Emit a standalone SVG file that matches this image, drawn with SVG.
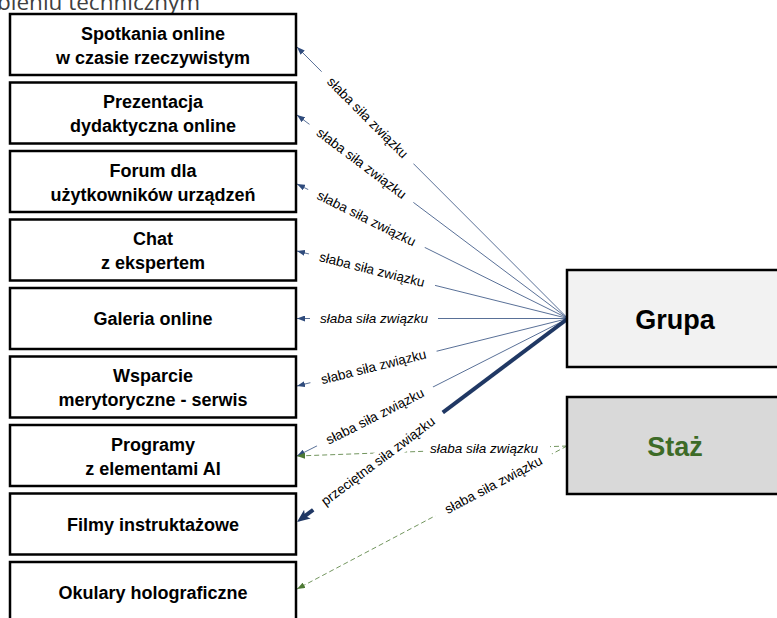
<svg xmlns="http://www.w3.org/2000/svg" width="777" height="618" viewBox="0 0 777 618">
<style>
.box{fill:#ffffff;stroke:#000000;stroke-width:2.5}
.bt{font-family:"Liberation Sans",Arial,sans-serif;font-weight:bold;font-size:18px;fill:#000000;text-anchor:middle}
.big{font-family:"Liberation Sans",Arial,sans-serif;font-weight:bold;font-size:27px;text-anchor:middle}
.thin{fill:none;stroke:#2f4b7c;stroke-width:0.8}
.thick{fill:none;stroke:#203864;stroke-width:4}
.green{fill:none;stroke:#4e7a35;stroke-width:0.8;stroke-dasharray:5 3}
.lr{fill:#ffffff}
.lt{font-family:"Liberation Sans",Arial,sans-serif;font-size:13.5px;fill:#000000;text-anchor:middle}
.it{font-style:italic}
</style>
<defs>
<marker id="ab" markerUnits="userSpaceOnUse" markerWidth="8" markerHeight="6" refX="8" refY="3" orient="auto"><path d="M0,0 L8,3 L0,6 z" fill="#2f4b7c"/></marker>
<marker id="abT" markerUnits="userSpaceOnUse" markerWidth="13" markerHeight="11" refX="5" refY="5.5" orient="auto"><path d="M0,0 L13,5.5 L0,11 L3,5.5 z" fill="#203864"/></marker>
<marker id="ag" markerUnits="userSpaceOnUse" markerWidth="8" markerHeight="6" refX="8" refY="3" orient="auto"><path d="M0,0 L8,3 L0,6 z" fill="#4e7a35"/></marker>
</defs>
<text x="-3" y="10" font-family="'Open Sans',sans-serif" font-size="22.5" fill="#404040">bleniu technicznym</text>
<g id="connectors">
<path class="thin" d="M568,318.5 L297,47" marker-end="url(#ab)"/>
<path class="thin" d="M568,318.5 L297,115" marker-end="url(#ab)"/>
<path class="thin" d="M568,318.5 L297,184" marker-end="url(#ab)"/>
<path class="thin" d="M568,318.5 L297,251" marker-end="url(#ab)"/>
<path class="thin" d="M568,318.5 L297,318.5" marker-end="url(#ab)"/>
<path class="thin" d="M568,318.5 L297,386" marker-end="url(#ab)"/>
<path class="thin" d="M568,318.5 L297,456" marker-end="url(#ab)"/>
<path class="thick" d="M568,318.5 L303.4,517.2" marker-end="url(#abT)"/>
<path class="green" d="M567,446 L297,456" marker-end="url(#ag)"/>
<path class="green" d="M567,446 L297,589" marker-end="url(#ag)"/>
<g transform="translate(367.5,117.6) rotate(45.05)"><rect class="lr" x="-65" y="-7" width="130" height="14"/><text class="lt" y="4.5">słaba siła związku</text></g>
<g transform="translate(361.5,163.4) rotate(36.9)"><rect class="lr" x="-65" y="-7" width="130" height="14"/><text class="lt" y="4.5">słaba siła związku</text></g>
<g transform="translate(366.5,218.5) rotate(26.4)"><rect class="lr" x="-65" y="-7" width="130" height="14"/><text class="lt" y="4.5">słaba siła związku</text></g>
<g transform="translate(372,269.7) rotate(14)"><rect class="lr" x="-65" y="-7" width="130" height="14"/><text class="lt" y="4.5">słaba siła związku</text></g>
<g transform="translate(374,318.5)"><rect class="lr" x="-64" y="-7" width="128" height="14"/><text class="lt it" y="4.5">słaba siła związku</text></g>
<g transform="translate(373.5,366.9) rotate(-14)"><rect class="lr" x="-65" y="-7" width="130" height="14"/><text class="lt" y="4.5">słaba siła związku</text></g>
<g transform="translate(375,416.4) rotate(-26.9)"><rect class="lr" x="-65" y="-7" width="130" height="14"/><text class="lt" y="4.5">słaba siła związku</text></g>
<g transform="translate(378,461.2) rotate(-36.9)"><rect class="lr" x="-81" y="-9" width="162" height="18"/><text class="lt" y="4.5">przeciętna siła związku</text></g>
<g transform="translate(487,449)"><rect class="lr" x="-63" y="-7" width="126" height="14"/><text class="lt it" x="-3" y="4">słaba siła związku</text></g>
<g transform="translate(493.5,484.9) rotate(-27.9)"><rect class="lr" x="-66" y="-7" width="132" height="14"/><text class="lt" y="4.5">słaba siła związku</text></g>
</g>
<g id="n1"><rect class="box" x="10" y="14" width="286" height="61"/><text class="bt" x="153" y="39.5">Spotkania online</text><text class="bt" x="153" y="63.5">w czasie rzeczywistym</text></g>
<g id="n2"><rect class="box" x="10" y="82.5" width="286" height="61"/><text class="bt" x="153" y="108">Prezentacja</text><text class="bt" x="153" y="132">dydaktyczna online</text></g>
<g id="n3"><rect class="box" x="10" y="151" width="286" height="61"/><text class="bt" x="153" y="176.5">Forum dla</text><text class="bt" x="153" y="200.5">użytkowników urządzeń</text></g>
<g id="n4"><rect class="box" x="10" y="219.5" width="286" height="61"/><text class="bt" x="153" y="245">Chat</text><text class="bt" x="153" y="269">z ekspertem</text></g>
<g id="n5"><rect class="box" x="10" y="288" width="286" height="61"/><text class="bt" x="153" y="325">Galeria online</text></g>
<g id="n6"><rect class="box" x="10" y="356.5" width="286" height="61"/><text class="bt" x="153" y="382">Wsparcie</text><text class="bt" x="153" y="406">merytoryczne - serwis</text></g>
<g id="n7"><rect class="box" x="10" y="425" width="286" height="61"/><text class="bt" x="153" y="450.5">Programy</text><text class="bt" x="153" y="474.5">z elementami AI</text></g>
<g id="n8"><rect class="box" x="10" y="493.5" width="286" height="61"/><text class="bt" x="153" y="530.5">Filmy instruktażowe</text></g>
<g id="n9"><rect class="box" x="10" y="562" width="286" height="61"/><text class="bt" x="153" y="599">Okulary holograficzne</text></g>
<g id="grupa"><rect x="567" y="270" width="220" height="97" fill="#f2f2f2" stroke="#000000" stroke-width="2.5"/><text class="big" x="675" y="328.5" fill="#000000">Grupa</text></g>
<g id="staz"><rect x="567" y="397" width="220" height="97" fill="#d9d9d9" stroke="#000000" stroke-width="2.5"/><text class="big" x="675" y="455.5" fill="#3d6b27">Staż</text></g>
</svg>
